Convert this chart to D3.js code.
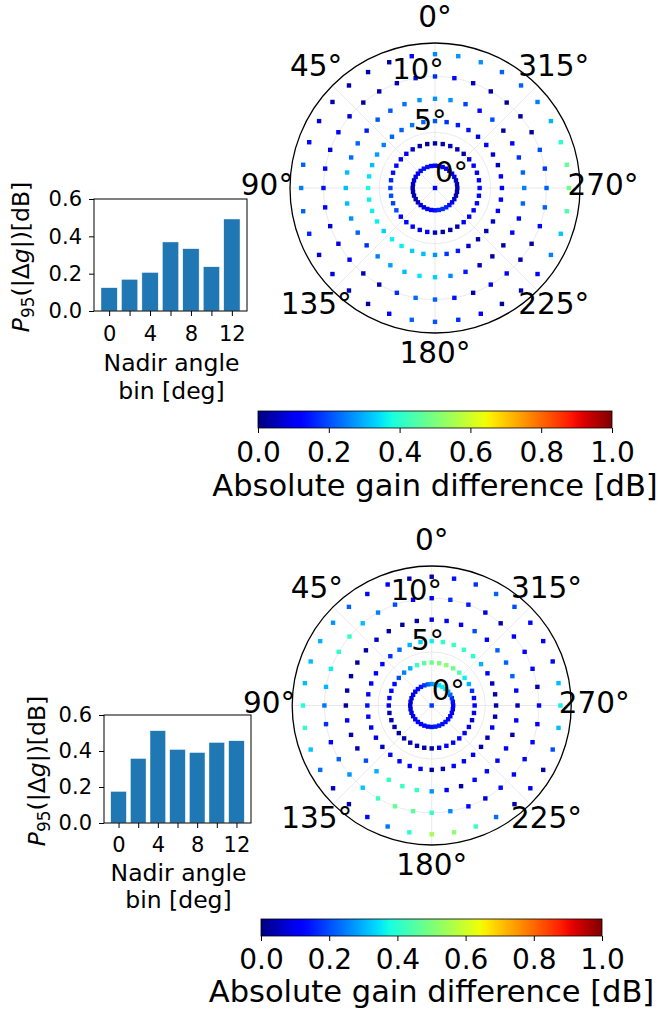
<!DOCTYPE html>
<html><head><meta charset="utf-8">
<script src="https://cdn.jsdelivr.net/npm/d3@7"></script>
<style>
body{margin:0;background:#fff}
svg{display:block}
text{font-family:"DejaVu Sans",sans-serif;fill:#000}
</style>
</head><body>
<svg id="chart" width="665" height="1015"></svg>
<script>
// ---------------- DATA ----------------
const nadirBins = [0, 2, 4, 6, 8, 10, 12];
const barTickValues = [0, 2, 4, 6, 8, 10, 12];
const barTickLabels = ["0", "", "4", "", "8", "", "12"];
const yTickValues = [0, 0.2, 0.4, 0.6];
const cbarTickValues = [0, 0.2, 0.4, 0.6, 0.8, 1.0];
const thetaTickValues = [0, 45, 90, 135, 180, 225, 270, 315];
const rTickValues = [0, 5, 10];
const ringNadir = [2, 4, 6, 8, 10, 12];
const azimuthDeg = [0,10,20,30,40,50,60,70,80,90,100,110,120,130,140,150,160,170,
                    180,190,200,210,220,230,240,250,260,270,280,290,300,310,320,330,340,350];

// panel A (top)
const p95A = [0.125, 0.17, 0.207, 0.37, 0.334, 0.237, 0.493];
const centerA = 0.125;
const ring2A  = [0.12,0.13,0.14,0.14,0.13,0.12,0.10,0.08,0.06,0.05,0.04,0.04,0.04,0.05,0.06,0.08,0.10,0.12,0.14,0.16,0.17,0.16,0.14,0.10,0.07,0.05,0.04,0.04,0.05,0.06,0.08,0.10,0.11,0.12,0.12,0.12];
const ring4A  = [0.03,0.03,0.04,0.07,0.12,0.12,0.13,0.14,0.16,0.19,0.20,0.19,0.20,0.13,0.13,0.12,0.08,0.12,0.06,0.03,0.03,0.04,0.12,0.12,0.12,0.13,0.13,0.13,0.12,0.12,0.12,0.08,0.04,0.05,0.06,0.04];
const ring6A  = [0.21,0.22,0.24,0.22,0.22,0.25,0.28,0.31,0.35,0.38,0.36,0.36,0.36,0.33,0.36,0.36,0.33,0.31,0.27,0.18,0.15,0.07,0.04,0.04,0.07,0.12,0.12,0.12,0.12,0.05,0.07,0.12,0.08,0.14,0.15,0.17];
const ring8A  = [0.27,0.27,0.24,0.21,0.21,0.15,0.22,0.23,0.31,0.31,0.31,0.27,0.22,0.17,0.25,0.28,0.31,0.35,0.33,0.26,0.15,0.05,0.03,0.03,0.12,0.13,0.22,0.25,0.22,0.17,0.12,0.03,0.20,0.13,0.19,0.27];
const ring10A = [0.17,0.13,0.05,0.03,0.03,0.07,0.12,0.08,0.13,0.14,0.13,0.08,0.08,0.12,0.05,0.03,0.17,0.23,0.22,0.14,0.04,0.12,0.12,0.04,0.03,0.13,0.22,0.22,0.18,0.20,0.03,0.03,0.03,0.03,0.06,0.13];
const ring12A = [0.26,0.13,0.03,0.03,0.04,0.04,0.08,0.13,0.22,0.25,0.22,0.16,0.08,0.08,0.05,0.03,0.12,0.22,0.21,0.17,0.12,0.03,0.04,0.12,0.25,0.32,0.44,0.48,0.47,0.40,0.30,0.25,0.22,0.22,0.27,0.27];

// panel B (bottom)
const p95B = [0.176, 0.359, 0.513, 0.409, 0.392, 0.448, 0.457];
const centerB = 0.176;
const ring2B  = [0.27,0.22,0.18,0.15,0.13,0.12,0.10,0.09,0.08,0.08,0.08,0.09,0.10,0.11,0.12,0.12,0.13,0.13,0.14,0.15,0.15,0.14,0.14,0.13,0.12,0.12,0.12,0.13,0.14,0.17,0.22,0.28,0.34,0.36,0.35,0.31];
const ring4B  = [0.48,0.46,0.42,0.30,0.25,0.20,0.13,0.13,0.12,0.10,0.05,0.04,0.04,0.03,0.03,0.04,0.04,0.03,0.03,0.10,0.12,0.12,0.12,0.12,0.12,0.06,0.12,0.12,0.13,0.17,0.30,0.36,0.44,0.48,0.52,0.50];
const ring6B  = [0.36,0.33,0.30,0.23,0.17,0.13,0.12,0.12,0.13,0.14,0.13,0.12,0.08,0.06,0.13,0.12,0.12,0.10,0.03,0.05,0.12,0.12,0.12,0.04,0.04,0.12,0.04,0.04,0.04,0.06,0.12,0.30,0.40,0.41,0.42,0.41];
const ring8B  = [0.08,0.04,0.03,0.03,0.07,0.03,0.03,0.03,0.03,0.03,0.12,0.04,0.04,0.20,0.30,0.41,0.42,0.41,0.27,0.12,0.03,0.13,0.13,0.12,0.12,0.04,0.12,0.04,0.12,0.22,0.22,0.22,0.12,0.20,0.12,0.12];
const ring10B = [0.10,0.12,0.20,0.25,0.31,0.41,0.40,0.36,0.30,0.24,0.17,0.12,0.22,0.27,0.32,0.42,0.47,0.46,0.41,0.26,0.13,0.08,0.13,0.12,0.12,0.13,0.12,0.12,0.04,0.12,0.12,0.12,0.03,0.08,0.15,0.17];
const ring12B = [0.04,0.04,0.12,0.13,0.22,0.27,0.30,0.31,0.31,0.39,0.41,0.32,0.23,0.06,0.04,0.13,0.24,0.40,0.55,0.52,0.42,0.23,0.04,0.10,0.04,0.20,0.31,0.36,0.31,0.13,0.12,0.13,0.20,0.22,0.17,0.14];

const cbarLabel = "Absolute gain difference [dB]";
const xLabelLines = ["Nadir angle", "bin [deg]"];

// ---------------- COLORMAP (matplotlib jet) ----------------
const jetR = d3.scaleLinear().domain([0, 0.35, 0.66, 0.89, 1]).range([0, 0, 1, 1, 0.5]).clamp(true);
const jetG = d3.scaleLinear().domain([0, 0.125, 0.375, 0.64, 0.91, 1]).range([0, 0, 1, 1, 0, 0]).clamp(true);
const jetB = d3.scaleLinear().domain([0, 0.11, 0.34, 0.65, 1]).range([0.5, 1, 1, 0, 0]).clamp(true);
const jet = v => d3.rgb(255 * jetR(v), 255 * jetG(v), 255 * jetB(v)).formatHex();

const svg = d3.select("#chart");
const defs = svg.append("defs");
const grad = defs.append("linearGradient").attr("id", "jetgrad").attr("x1", "0%").attr("x2", "100%");
d3.range(0, 1.0001, 0.02).forEach(t => grad.append("stop").attr("offset", (t * 100) + "%").attr("stop-color", jet(t)));

// ---------------- PANELS ----------------
const panels = [
  { p95: p95A, center: centerA, rings: [ring2A, ring4A, ring6A, ring8A, ring10A, ring12A],
    polar: { cx: 435, cy: 188, R: 145 },
    bar: { x0: 94, x1: 247, y0: 199, y1: 311, tickBase: 341, lab1: 371, lab2: 398.5, ylabX: 29, ylabY: 257 },
    cbar: { x0: 258, x1: 612, y0: 411, h: 17, tickBase: 462, titleBase: 496 } },
  { p95: p95B, center: centerB, rings: [ring2B, ring4B, ring6B, ring8B, ring10B, ring12B],
    polar: { cx: 431.7, cy: 705.5, R: 139.5 },
    bar: { x0: 104, x1: 251, y0: 715, y1: 823, tickBase: 852, lab1: 880.5, lab2: 908, ylabX: 45, ylabY: 771 },
    cbar: { x0: 261, x1: 602, y0: 919, h: 17, tickBase: 969, titleBase: 1002 } }
];

const rMax = 13;
const thetaFs = 29.5, rFs = 29, tickFs = 21, labFs = 23.5, cbTickFs = 28, cbTitleFs = 30.5;

panels.forEach(P => {
  // ---------- polar ----------
  const { cx, cy, R } = P.polar;
  const g = svg.append("g");
  const rS = d3.scaleLinear().domain([0, rMax]).range([0, R]);
  const aS = d3.scaleLinear().domain([0, 360]).range([0, 2 * Math.PI]);
  const px = (az, r) => cx - rS(r) * Math.sin(aS(az));
  const py = (az, r) => cy - rS(r) * Math.cos(aS(az));

  g.selectAll("circle.grid").data(rTickValues.filter(d => d > 0)).join("circle")
    .attr("cx", cx).attr("cy", cy).attr("r", d => rS(d))
    .attr("fill", "none").attr("stroke", "#e4e4e4").attr("stroke-width", 0.8);
  g.selectAll("line.spoke").data(thetaTickValues).join("line")
    .attr("x1", cx).attr("y1", cy).attr("x2", d => px(d, rMax)).attr("y2", d => py(d, rMax))
    .attr("stroke", "#e4e4e4").attr("stroke-width", 0.8);

  const pts = [{ az: 0, r: 0, v: P.center }];
  ringNadir.forEach((rn, i) => azimuthDeg.forEach((az, j) => pts.push({ az, r: rn, v: P.rings[i][j] })));
  const ms = 4.4;
  g.selectAll("rect.pt").data(pts).join("rect")
    .attr("x", d => px(d.az, d.r) - ms / 2).attr("y", d => py(d.az, d.r) - ms / 2)
    .attr("width", ms).attr("height", ms).attr("fill", d => jet(d.v));

  g.append("circle").attr("cx", cx).attr("cy", cy).attr("r", R)
    .attr("fill", "none").attr("stroke", "#000").attr("stroke-width", 1.3);

  // theta labels
  const L = R + 23;
  g.selectAll("text.th").data(thetaTickValues).join("text")
    .attr("x", d => cx - L * Math.sin(aS(d)))
    .attr("y", d => cy - L * Math.cos(aS(d)) + 7.2)
    .attr("text-anchor", "middle").attr("font-size", thetaFs).text(d => d + "°");
  // r labels at 22.5 deg
  g.selectAll("text.rl").data(rTickValues).join("text")
    .attr("x", d => px(22.5, d)).attr("y", d => py(22.5, d) - 6)
    .attr("font-size", rFs).text(d => d + "°");

  // ---------- bar chart ----------
  const B = P.bar;
  const gb = svg.append("g");
  const xS = d3.scaleLinear().domain([-1.48, 13.48]).range([B.x0, B.x1]);
  const yS = d3.scaleLinear().domain([0, 0.6]).range([B.y1, B.y0]);
  const bw = 1.6;
  gb.selectAll("rect.bar").data(nadirBins.map((b, i) => ({ b, v: P.p95[i] }))).join("rect")
    .attr("x", d => xS(d.b - bw / 2)).attr("width", xS(bw) - xS(0))
    .attr("y", d => yS(d.v)).attr("height", d => yS(0) - yS(d.v))
    .attr("fill", "#1f77b4").attr("stroke", "#ffffff").attr("stroke-width", 0.5);

  const yAx = gb.append("g").attr("transform", `translate(${B.x0},0)`)
    .call(d3.axisLeft(yS).tickValues(yTickValues).tickFormat(d3.format(".1f")).tickSize(5).tickPadding(7));
  const xAx = gb.append("g").attr("transform", `translate(0,${B.y1})`)
    .call(d3.axisBottom(xS).tickValues(barTickValues).tickFormat((d, i) => barTickLabels[i]).tickSize(5).tickPadding(8));
  [yAx, xAx].forEach(a => {
    a.select(".domain").remove();
    a.selectAll("line").attr("stroke", "#000").attr("stroke-width", 1);
    a.selectAll("text").attr("font-size", tickFs).attr("font-family", "DejaVu Sans").attr("fill", "#000");
  });
  xAx.selectAll("text").attr("dy", null).attr("y", B.tickBase - B.y1);
  gb.append("rect").attr("x", B.x0).attr("y", B.y0).attr("width", B.x1 - B.x0).attr("height", B.y1 - B.y0)
    .attr("fill", "none").attr("stroke", "#000").attr("stroke-width", 1);

  const xc = (B.x0 + B.x1) / 2 + 1;
  gb.append("text").attr("x", xc).attr("y", B.lab1).attr("text-anchor", "middle").attr("font-size", labFs).text(xLabelLines[0]);
  gb.append("text").attr("x", xc).attr("y", B.lab2).attr("text-anchor", "middle").attr("font-size", labFs).text(xLabelLines[1]);

  const yl = gb.append("text").attr("transform", `translate(${B.ylabX},${B.ylabY}) rotate(-90)`)
    .attr("text-anchor", "middle").attr("font-size", labFs);
  yl.append("tspan").attr("font-style", "italic").text("P");
  yl.append("tspan").attr("font-size", 17).attr("dy", 5).text("95");
  yl.append("tspan").attr("dy", -5).text("(|Δ");
  yl.append("tspan").attr("font-style", "italic").text("g");
  yl.append("tspan").text("|)[dB]");

  // ---------- colorbar ----------
  const C = P.cbar;
  const gc = svg.append("g");
  const cS = d3.scaleLinear().domain([0, 1]).range([C.x0, C.x1]);
  gc.append("rect").attr("x", C.x0).attr("y", C.y0).attr("width", C.x1 - C.x0).attr("height", C.h)
    .attr("fill", "url(#jetgrad)").attr("stroke", "#000").attr("stroke-width", 0.8);
  const cAx = gc.append("g").attr("transform", `translate(0,${C.y0 + C.h})`)
    .call(d3.axisBottom(cS).tickValues(cbarTickValues).tickFormat(d3.format(".1f")).tickSize(5));
  cAx.select(".domain").remove();
  cAx.selectAll("line").attr("stroke", "#000").attr("stroke-width", 1);
  cAx.selectAll("text").attr("font-size", cbTickFs).attr("font-family", "DejaVu Sans").attr("fill", "#000")
    .attr("dy", null).attr("y", C.tickBase - C.y0 - C.h);
  gc.append("text").attr("x", (C.x0 + C.x1) / 2).attr("y", C.titleBase).attr("text-anchor", "middle")
    .attr("font-size", cbTitleFs).text(cbarLabel);
});
</script>
</body></html>
